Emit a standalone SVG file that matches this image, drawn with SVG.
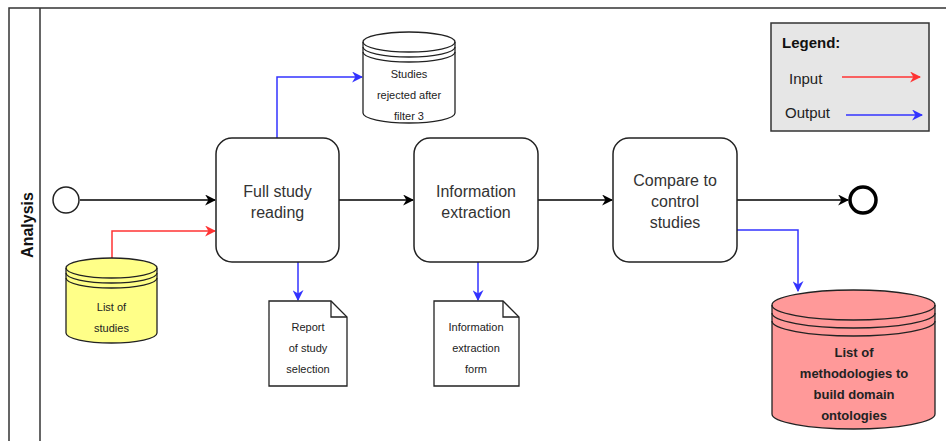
<svg xmlns="http://www.w3.org/2000/svg" width="946" height="441" viewBox="0 0 946 441">
  <style>
    .lane { fill: none; stroke: #333; stroke-width: 1.5; }
    .task { fill: #fff; stroke: #222; stroke-width: 1.5; }
    .shape { stroke: #222; stroke-width: 1.3; }
    .ttl { font-family: "Liberation Sans", Arial, sans-serif; font-size: 16px; fill: #333; text-anchor: middle; }
    .sm { font-family: "Liberation Sans", Arial, sans-serif; font-size: 11px; fill: #222; text-anchor: middle; }
    .flow { fill: none; stroke: #000; stroke-width: 1.5; }
    .out { fill: none; stroke: #3333ff; stroke-width: 1.5; }
    .in { fill: none; stroke: #ff3333; stroke-width: 1.5; }
  </style>
  <defs>
    <marker id="aBlack" viewBox="0 0 10 10" refX="9" refY="5" markerWidth="11" markerHeight="11" markerUnits="userSpaceOnUse" orient="auto">
      <path d="M0,0 L10,5 L0,10 L3,5 Z" fill="#000"/>
    </marker>
    <marker id="aBlue" viewBox="0 0 10 10" refX="9" refY="5" markerWidth="11" markerHeight="11" markerUnits="userSpaceOnUse" orient="auto">
      <path d="M0,0 L10,5 L0,10 L3,5 Z" fill="#3333ff"/>
    </marker>
    <marker id="aRed" viewBox="0 0 10 10" refX="9" refY="5" markerWidth="11" markerHeight="11" markerUnits="userSpaceOnUse" orient="auto">
      <path d="M0,0 L10,5 L0,10 L3,5 Z" fill="#ff3333"/>
    </marker>
  </defs>

  <rect width="946" height="441" fill="#fff"/>

  <!-- pool / lane -->
  <g id="lane">
    <path class="lane" d="M9,441 V8 H946"/>
    <path class="lane" d="M40,8 V441"/>
    <text transform="translate(33,225) rotate(-90)" font-family="Liberation Sans, Arial, sans-serif" font-size="16" font-weight="bold" fill="#111" text-anchor="middle">Analysis</text>
  </g>

  <!-- connectors -->
  <g id="connectors">
    <path class="flow" d="M80,200 H215" marker-end="url(#aBlack)"/>
    <path class="flow" d="M339,200 H413" marker-end="url(#aBlack)"/>
    <path class="flow" d="M538,200 H612" marker-end="url(#aBlack)"/>
    <path class="flow" d="M737,200 H848" marker-end="url(#aBlack)"/>
    <path class="out" d="M277,138 V77 H362" marker-end="url(#aBlue)"/>
    <path class="in" d="M112,258 V231 H215" marker-end="url(#aRed)"/>
    <path class="out" d="M298,262 V300" marker-end="url(#aBlue)"/>
    <path class="out" d="M478,262 V300" marker-end="url(#aBlue)"/>
    <path class="out" d="M737,230 H798 V291" marker-end="url(#aBlue)"/>
  </g>

  <g id="start">
    <circle cx="66" cy="200" r="13" fill="#fff" stroke="#222" stroke-width="1.5"/>
  </g>

  <g id="end">
    <circle cx="863" cy="200" r="13" fill="#fff" stroke="#000" stroke-width="3.5"/>
  </g>

  <g id="fullStudyReading">
    <rect class="task" x="216" y="138" width="123" height="124" rx="16"/>
    <text class="ttl" x="277.5" y="197">Full study</text>
    <text class="ttl" x="277.5" y="218">reading</text>
  </g>

  <g id="informationExtraction">
    <rect class="task" x="414" y="138" width="124" height="124" rx="16"/>
    <text class="ttl" x="476" y="197">Information</text>
    <text class="ttl" x="476" y="218">extraction</text>
  </g>

  <g id="compareControl">
    <rect class="task" x="613" y="138" width="124" height="124" rx="16"/>
    <text class="ttl" x="675" y="186">Compare to</text>
    <text class="ttl" x="675" y="207">control</text>
    <text class="ttl" x="675" y="228">studies</text>
  </g>

  <g id="studiesRejected">
    <path class="shape" fill="#fff" d="M363,42 A46,10 0 0 1 455,42 V113 A46,10 0 0 1 363,113 Z"/>
    <path class="shape" fill="none" d="M363,42 A46,10 0 0 0 455,42 M363,47 A46,10 0 0 0 455,47 M363,52 A46,10 0 0 0 455,52"/>
    <text class="sm" x="409" y="78">Studies</text>
    <text class="sm" x="409" y="99">rejected after</text>
    <text class="sm" x="409" y="120">filter 3</text>
  </g>

  <g id="listOfStudies">
    <path class="shape" fill="#ffff88" d="M66,268 A45.5,10 0 0 1 157,268 V333 A45.5,10 0 0 1 66,333 Z"/>
    <path class="shape" fill="none" d="M66,268 A45.5,10 0 0 0 157,268 M66,273 A45.5,10 0 0 0 157,273 M66,278 A45.5,10 0 0 0 157,278"/>
    <text class="sm" x="111.5" y="311">List of</text>
    <text class="sm" x="111.5" y="332">studies</text>
  </g>

  <g id="reportSelection">
    <path class="shape" fill="#fff" d="M269,301 H331 L347,317 V386 H269 Z"/>
    <path class="shape" fill="none" d="M331,301 V317 H347"/>
    <text class="sm" x="308" y="331">Report</text>
    <text class="sm" x="308" y="352">of study</text>
    <text class="sm" x="308" y="373">selection</text>
  </g>

  <g id="extractionForm">
    <path class="shape" fill="#fff" d="M434,301 H503 L519,317 V386 H434 Z"/>
    <path class="shape" fill="none" d="M503,301 V317 H519"/>
    <text class="sm" x="476" y="331">Information</text>
    <text class="sm" x="476" y="352">extraction</text>
    <text class="sm" x="476" y="373">form</text>
  </g>

  <g id="methodologies">
    <path class="shape" fill="#ff9999" d="M772,305 A81.5,15 0 0 1 935,305 V414 A81.5,15 0 0 1 772,414 Z"/>
    <path class="shape" fill="none" d="M772,305 A81.5,15 0 0 0 935,305 M772,313 A81.5,15 0 0 0 935,313 M772,321 A81.5,15 0 0 0 935,321"/>
    <g font-family="Liberation Sans, Arial, sans-serif" font-size="13" font-weight="bold" fill="#222" text-anchor="middle">
      <text x="854" y="357">List of</text>
      <text x="854" y="378">methodologies to</text>
      <text x="854" y="399">build domain</text>
      <text x="854" y="420">ontologies</text>
    </g>
  </g>

  <g id="legend">
    <rect x="771" y="23" width="158" height="108" fill="#e6e6e6" stroke="#333" stroke-width="1.5"/>
    <text x="782" y="48" font-family="Liberation Sans, Arial, sans-serif" font-size="15" font-weight="bold" fill="#111">Legend:</text>
    <text x="789" y="84" font-family="Liberation Sans, Arial, sans-serif" font-size="15" fill="#222">Input</text>
    <path class="in" d="M842,77 H920" marker-end="url(#aRed)"/>
    <text x="785" y="118" font-family="Liberation Sans, Arial, sans-serif" font-size="15" fill="#222">Output</text>
    <path class="out" d="M846,115 H922" marker-end="url(#aBlue)"/>
  </g>
</svg>
